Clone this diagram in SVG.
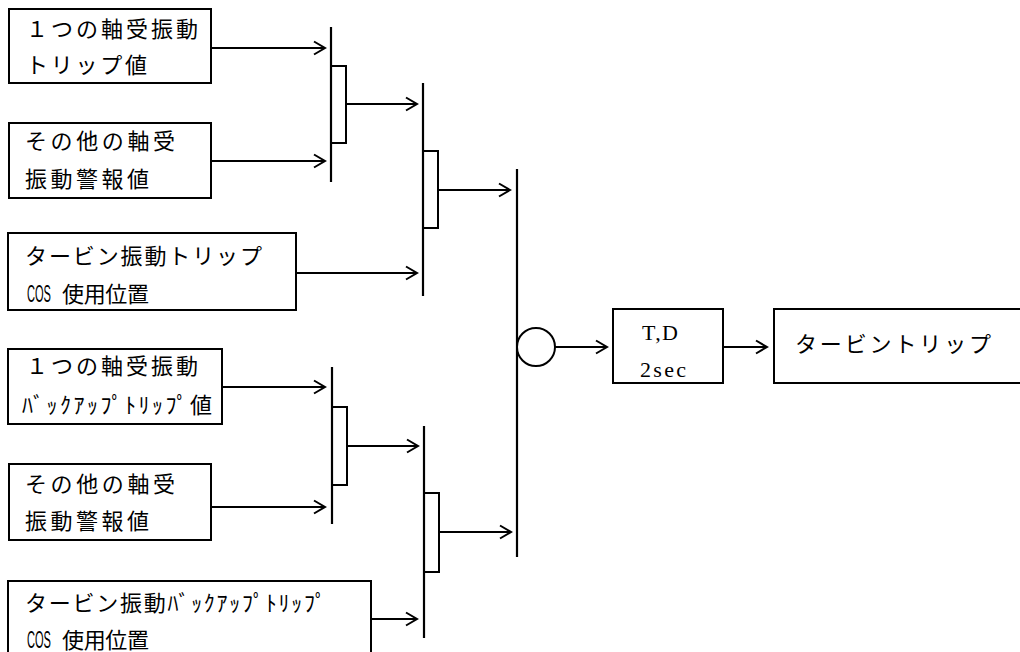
<svg xmlns="http://www.w3.org/2000/svg" width="1020" height="652" viewBox="0 0 1020 652">
<style>
  .box{fill:#fff;stroke:#000;stroke-width:2}
  .bar{stroke:#000;stroke-width:2.2;fill:none}
  .gate{fill:#fff;stroke:#000;stroke-width:2}
  .wire{stroke:#000;stroke-width:2;fill:none;marker-end:url(#arr)}
  .jp{font-family:"Noto Sans CJK JP","Noto Sans",sans-serif;font-size:22px;fill:#000}
  .lat{font-family:"Liberation Serif",serif;font-size:22px;fill:#000}
  .cos{font-family:"Liberation Sans",sans-serif;font-size:24px}
</style>
<defs>
  <marker id="arr" markerUnits="userSpaceOnUse" markerWidth="14" markerHeight="16" viewBox="-12 -8 14 16" refX="0" refY="0" orient="auto">
    <path d="M-11,-6.5 L0,0 L-11,6.5" fill="none" stroke="#000" stroke-width="2"/>
  </marker>
</defs>
<rect width="1020" height="652" fill="#fff"/>

<g id="in1">
  <rect class="box" x="9" y="9" width="202" height="74"/>
  <text class="jp" x="26" y="37" textLength="172" lengthAdjust="spacing">１つの軸受振動</text>
  <text class="jp" x="26" y="73" textLength="121" lengthAdjust="spacing">トリップ値</text>
</g>
<g id="in2">
  <rect class="box" x="9" y="123" width="202" height="75"/>
  <text class="jp" x="25" y="149" textLength="150" lengthAdjust="spacing">その他の軸受</text>
  <text class="jp" x="25" y="187" textLength="124" lengthAdjust="spacing">振動警報値</text>
</g>
<g id="in3">
  <rect class="box" x="8" y="233" width="288" height="77"/>
  <text class="jp" x="25" y="264" textLength="237" lengthAdjust="spacing">タービン振動トリップ</text>
  <text class="jp" x="27" y="302"><tspan class="cos" textLength="24" lengthAdjust="spacingAndGlyphs">COS</tspan><tspan x="62" textLength="87" lengthAdjust="spacing">使用位置</tspan></text>
</g>
<g id="in4">
  <rect class="box" x="8" y="349" width="214" height="75"/>
  <text class="jp" x="26" y="374" textLength="172" lengthAdjust="spacing">１つの軸受振動</text>
  <text class="jp" x="22" y="413" textLength="190" lengthAdjust="spacing">ﾊﾞｯｸｱｯﾌﾟﾄﾘｯﾌﾟ値</text>
</g>
<g id="in5">
  <rect class="box" x="9" y="464" width="202" height="76"/>
  <text class="jp" x="25" y="492" textLength="150" lengthAdjust="spacing">その他の軸受</text>
  <text class="jp" x="25" y="529" textLength="124" lengthAdjust="spacing">振動警報値</text>
</g>
<g id="in6">
  <rect class="box" x="8" y="581" width="363" height="90"/>
  <text class="jp" x="25" y="611" textLength="301" lengthAdjust="spacing">タービン振動ﾊﾞｯｸｱｯﾌﾟﾄﾘｯﾌﾟ</text>
  <text class="jp" x="27" y="648"><tspan class="cos" textLength="24" lengthAdjust="spacingAndGlyphs">COS</tspan><tspan x="62" textLength="87" lengthAdjust="spacing">使用位置</tspan></text>
</g>

<g id="gateA">
  <rect class="gate" x="331" y="66" width="15" height="77"/>
  <line class="bar" x1="331" y1="27" x2="331" y2="182"/>
</g>
<g id="gateB">
  <rect class="gate" x="423" y="151" width="15" height="77"/>
  <line class="bar" x1="423" y1="83" x2="423" y2="296"/>
</g>
<g id="gateD">
  <rect class="gate" x="332" y="407" width="15" height="78"/>
  <line class="bar" x1="332" y1="367" x2="332" y2="524"/>
</g>
<g id="gateE">
  <rect class="gate" x="424" y="493" width="15" height="79"/>
  <line class="bar" x1="424" y1="426" x2="424" y2="638"/>
</g>
<g id="gateC">
  <line class="bar" x1="517" y1="169" x2="517" y2="557"/>
  <circle cx="536" cy="347" r="19" fill="#fff" stroke="#000" stroke-width="2"/>
</g>

<g id="timer">
  <rect class="box" x="613" y="309" width="110" height="74"/>
  <text class="lat" x="642" y="340" textLength="36" lengthAdjust="spacing">T,D</text>
  <text class="lat" x="640" y="377" textLength="46" lengthAdjust="spacing">2sec</text>
</g>
<g id="trip">
  <rect class="box" x="774" y="309" width="260" height="74"/>
  <text class="jp" x="795" y="352" textLength="196" lengthAdjust="spacing">タービントリップ</text>
</g>

<g id="connectors">
  <line class="wire" x1="211" y1="48" x2="325" y2="48"/>
  <line class="wire" x1="211" y1="161" x2="325" y2="161"/>
  <line class="wire" x1="296" y1="273" x2="417" y2="273"/>
  <line class="wire" x1="346" y1="104" x2="417" y2="104"/>
  <line class="wire" x1="438" y1="190" x2="510" y2="190"/>
  <line class="wire" x1="222" y1="387" x2="325" y2="387"/>
  <line class="wire" x1="211" y1="507" x2="325" y2="507"/>
  <line class="wire" x1="347" y1="446" x2="418" y2="446"/>
  <line class="wire" x1="371" y1="619" x2="417" y2="619"/>
  <line class="wire" x1="439" y1="532" x2="511" y2="532"/>
  <line class="wire" x1="555" y1="347" x2="607" y2="347"/>
  <line class="wire" x1="723" y1="347" x2="767" y2="347"/>
</g>
</svg>
